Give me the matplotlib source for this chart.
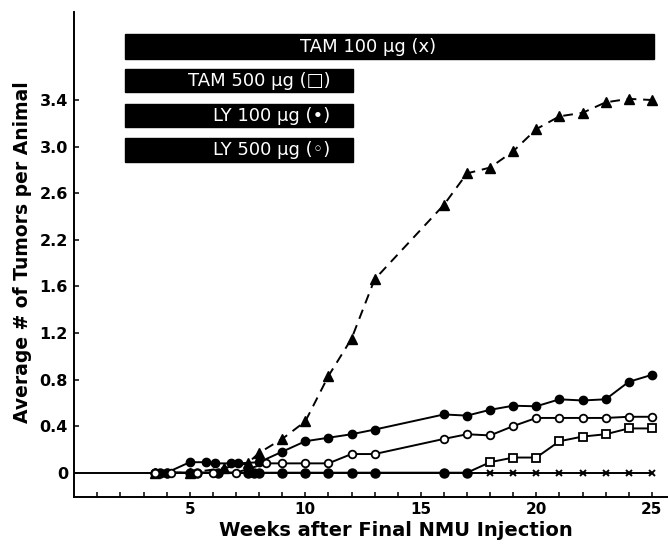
import numpy as np
import matplotlib
matplotlib.use("Agg")
import matplotlib.pyplot as plt
from matplotlib.patches import Rectangle

# Valeurs (semaines après la dernière injection de NMU)
tick_vals = [0, 0.4, 0.8, 1.2, 1.6, 2.2, 2.6, 3.0, 3.4]
tick_labels = ["0", "0.4", "0.8", "1.2", "1.6", "2.2", "2.6", "3.0", "3.4"]

ctrl_weeks = [3.5, 5, 6.5, 7.5, 8, 9, 10, 11, 12, 13, 16, 17, 18, 19, 20, 21, 22, 23, 24, 25]
ctrl_vals = [0, 0, 0.04, 0.08, 0.17, 0.29, 0.44, 0.83, 1.15, 1.69, 2.50, 2.77, 2.82, 2.96,
             3.15, 3.26, 3.29, 3.38, 3.41, 3.40]

ly100_weeks = [3.5, 4, 5, 5.7, 6.1, 6.8, 7.1, 8, 9, 10, 11, 12, 13, 16, 17, 18, 19, 20, 21, 22, 23, 24, 25]
ly100_vals = [0, 0, 0.09, 0.09, 0.08, 0.08, 0.08, 0.09, 0.18, 0.27, 0.30, 0.33, 0.37,
              0.50, 0.49, 0.54, 0.575, 0.57, 0.63, 0.62, 0.63, 0.78, 0.84]

ly500_weeks = [3.5, 4.2, 5.3, 6, 7, 8.3, 9, 10, 11, 12, 13, 16, 17, 18, 19, 20, 21, 22, 23, 24, 25]
ly500_vals = [0, 0, 0, 0, 0, 0.08, 0.08, 0.08, 0.08, 0.16, 0.16, 0.29, 0.33, 0.32, 0.40,
              0.47, 0.47, 0.47, 0.47, 0.48, 0.48]

tam500_weeks = [3.5, 3.7, 4, 5, 5.3, 6.2, 7.5, 7.8, 8, 9, 10, 11, 12, 13, 16, 17,
                18, 19, 20, 21, 22, 23, 24, 25]
tam500_vals = [0] * 16 + [0.09, 0.13, 0.13, 0.27, 0.31, 0.33, 0.38, 0.38]

tam100_weeks = [18, 19, 20, 21, 22, 23, 24, 25]
tam100_vals = [0] * 8

# Barres de traitement
bar_names = ["TAM 100 µg (x)", "TAM 500 µg (□)", "LY 100 µg (•)", "LY 500 µg (◦)"]
bar_start = [2.2, 2.2, 2.2, 2.2]
bar_end = [25.1, 12.05, 12.05, 12.05]


# Axe y non linéaire : graduations équidistantes
def fwd(v):
    v = np.asarray(v, dtype=float)
    return np.where(v < 0, v / 0.4,
                    np.where(v > 3.4, 8 + (v - 3.4) / 0.4,
                             np.interp(v, tick_vals, np.arange(9))))


def inv(p):
    p = np.asarray(p, dtype=float)
    return np.where(p < 0, p * 0.4,
                    np.where(p > 8, 3.4 + (p - 8) * 0.4,
                             np.interp(p, np.arange(9), tick_vals)))


plt.rcParams['font.family'] = 'DejaVu Sans'
fig = plt.figure(figsize=(6.68, 5.44), dpi=100)
ax = fig.add_axes([0.1112, 0.087, 0.8888, 0.891])
ax.set_yscale('function', functions=(fwd, inv))

lw = 1.4
ax.hlines(0, 0, 25, color='black', lw=lw, zorder=2)

ax.plot(ctrl_weeks, ctrl_vals, color='black', lw=lw, ls=(0, (5, 3.5)),
        marker='^', ms=6.5, zorder=3)
ax.plot(ly100_weeks, ly100_vals, color='black', lw=lw, marker='o', ms=6, zorder=3)
ax.plot(ly500_weeks, ly500_vals, color='black', lw=lw, marker='o', ms=5.5,
        mfc='white', mew=1.3, zorder=4)

sq = np.array(tam500_vals) > 0
ax.plot(tam500_weeks, tam500_vals, color='black', lw=lw, zorder=3)
ax.plot(np.array(tam500_weeks)[~sq], np.array(tam500_vals)[~sq], ls='none',
        marker='o', ms=6.5, color='black', zorder=3)
ax.plot(np.array(tam500_weeks)[sq], np.array(tam500_vals)[sq], ls='none',
        marker='s', ms=5.5, mfc='white', mec='black', mew=1.3, zorder=4)
ax.plot(tam100_weeks, tam100_vals, ls='none', marker='x', ms=4.5, mew=1.4,
        color='black', zorder=4)

# Barres de traitement (en fraction d'axe pour y)
bar_y = [(0.902, 0.955), (0.834, 0.882), (0.762, 0.810), (0.691, 0.739)]
trans = ax.get_xaxis_transform()
for name, s, e, (y0, y1) in zip(bar_names, bar_start, bar_end, bar_y):
    ax.add_patch(Rectangle((s, y0), e - s, y1 - y0, transform=trans,
                           facecolor='black', edgecolor='black', clip_on=False))
    if e > 20:
        ax.text(12.7, (y0 + y1) / 2, name, transform=trans, color='white',
                ha='center', va='center', fontsize=13)
    else:
        ax.text(e - 0.95, (y0 + y1) / 2, name, transform=trans, color='white',
                ha='right', va='center', fontsize=13)

ax.set_xlim(0, 25.7)
ax.set_ylim(-0.206, 4.156)
ax.set_yticks(tick_vals)
ax.set_yticklabels(tick_labels)
ax.yaxis.set_minor_locator(matplotlib.ticker.NullLocator())
ax.set_xticks([5, 10, 15, 20, 25])
ax.set_xticks(np.arange(1, 26), minor=True)

ax.spines['top'].set_visible(False)
ax.spines['right'].set_visible(False)
ax.spines['left'].set_linewidth(1.4)
ax.spines['bottom'].set_linewidth(1.4)
ax.tick_params(axis='both', which='both', direction='in', length=3.6, width=1.1)
ax.tick_params(axis='y', pad=4.5, labelsize=11.5)
ax.tick_params(axis='x', pad=4, labelsize=11)
for lab in ax.get_xticklabels() + ax.get_yticklabels():
    lab.set_fontweight('bold')

ax.set_xlabel("Weeks after Final NMU Injection", fontsize=14, fontweight='bold')
ax.set_ylabel("Average # of Tumors per Animal", fontsize=13.5, fontweight='bold')
ax.xaxis.set_label_coords(0.542, -0.05)
ax.yaxis.set_label_coords(-0.072, 0.505)

fig.savefig("out.png", dpi=100)
